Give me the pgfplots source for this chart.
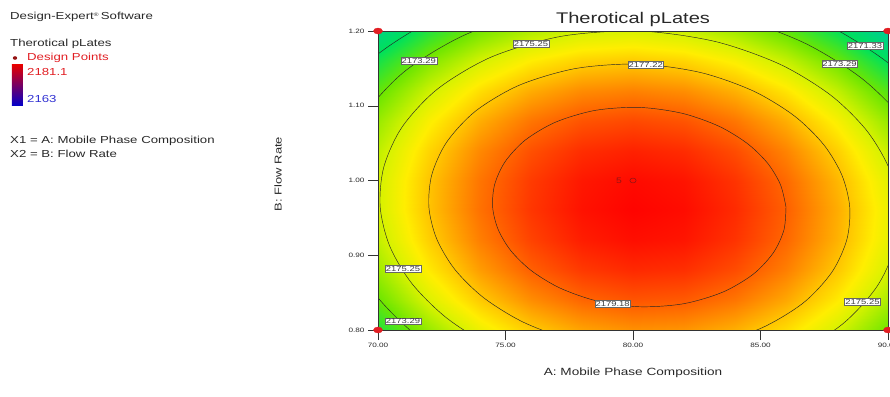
\documentclass[border=0pt]{standalone}
\usepackage{fontspec}
\setmainfont{Liberation Sans}[FakeStretch=1.3]
\usepackage{pgfplots}
\pgfplotsset{compat=1.18}
\usepackage{pgfplotstable}
\definecolor{dxred}{RGB}{225,30,35}
\definecolor{dxdark}{RGB}{150,20,20}
\definecolor{dxblue}{RGB}{50,50,210}
\definecolor{txtgray}{RGB}{40,40,40}
\tikzset{lab/.style={fill=white, draw=black!60, line width=0.3bp, inner sep=0.8bp, font=\fontsize{7.3}{8}\selectfont, text=black!75}}

\pgfplotstableread{
x y z
70 0.80 2171.89
72 0.80 2174.05
74 0.80 2175.76
76 0.80 2177.02
78 0.80 2177.84
80 0.80 2178.20
82 0.80 2178.12
84 0.80 2177.59
86 0.80 2176.61
88 0.80 2175.18
90 0.80 2173.31
70 0.84 2173.21
72 0.84 2175.34
74 0.84 2177.03
76 0.84 2178.27
78 0.84 2179.06
80 0.84 2179.41
82 0.84 2179.30
84 0.84 2178.75
86 0.84 2177.75
88 0.84 2176.30
90 0.84 2174.41
70 0.88 2174.18
72 0.88 2176.30
74 0.88 2177.97
76 0.88 2179.19
78 0.88 2179.96
80 0.88 2180.28
82 0.88 2180.16
84 0.88 2179.58
86 0.88 2178.56
88 0.88 2177.10
90 0.88 2175.18
70 0.92 2174.83
72 0.92 2176.92
74 0.92 2178.57
76 0.92 2179.77
78 0.92 2180.52
80 0.92 2180.82
82 0.92 2180.68
84 0.92 2180.08
86 0.92 2179.04
88 0.92 2177.55
90 0.92 2175.61
70 0.96 2175.14
72 0.96 2177.21
74 0.96 2178.84
76 0.96 2180.02
78 0.96 2180.75
80 0.96 2181.03
82 0.96 2180.86
84 0.96 2180.25
86 0.96 2179.19
88 0.96 2177.67
90 0.96 2175.72
70 1.00 2175.12
72 1.00 2177.17
74 1.00 2178.77
76 1.00 2179.93
78 1.00 2180.64
80 1.00 2180.90
82 1.00 2180.71
84 1.00 2180.08
86 1.00 2179.00
88 1.00 2177.46
90 1.00 2175.49
70 1.04 2174.76
72 1.04 2176.79
74 1.04 2178.38
76 1.04 2179.51
78 1.04 2180.20
80 1.04 2180.44
82 1.04 2180.23
84 1.04 2179.58
86 1.04 2178.47
88 1.04 2176.92
90 1.04 2174.92
70 1.08 2174.07
72 1.08 2176.08
74 1.08 2177.64
76 1.08 2178.76
78 1.08 2179.43
80 1.08 2179.65
82 1.08 2179.42
84 1.08 2178.74
86 1.08 2177.62
88 1.08 2176.04
90 1.08 2174.02
70 1.12 2173.05
72 1.12 2175.04
74 1.12 2176.58
76 1.12 2177.67
78 1.12 2178.32
80 1.12 2178.52
82 1.12 2178.27
84 1.12 2177.57
86 1.12 2176.42
88 1.12 2174.83
90 1.12 2172.79
70 1.16 2171.69
72 1.16 2173.66
74 1.16 2175.18
76 1.16 2176.25
78 1.16 2176.88
80 1.16 2177.06
82 1.16 2176.79
84 1.16 2176.07
86 1.16 2174.90
88 1.16 2173.29
90 1.16 2171.22
70 1.20 2170.00
72 1.20 2171.95
74 1.20 2173.45
76 1.20 2174.50
78 1.20 2175.10
80 1.20 2175.26
82 1.20 2174.97
84 1.20 2174.23
86 1.20 2173.04
88 1.20 2171.41
90 1.20 2169.32
}\surfdata

\begin{document}
\begin{tikzpicture}
\begin{axis}[
  at={(0,0)}, anchor=south west,
  scale only axis, width=510bp, height=299bp,
  xmin=70, xmax=90, ymin=0.8, ymax=1.2,
  xtick={70,75,80,85,90}, ytick={0.8,0.9,1.0,1.1,1.2},
  /pgf/number format/assume math mode=true,
  xticklabel style={/pgf/number format/fixed, /pgf/number format/fixed zerofill, /pgf/number format/precision=2},
  yticklabel style={/pgf/number format/fixed, /pgf/number format/fixed zerofill, /pgf/number format/precision=2},
  tick pos=left, tick align=outside, major tick length=10bp,
  tick style={black!80, line width=0.5bp},
  tick label style={font=\fontsize{6.3}{7}\selectfont, text=txtgray},
  colormap={dx}{rgb255(0pt)=(0,0,255); rgb255(50pt)=(0,190,190); rgb255(83pt)=(0,225,90); rgb255(103pt)=(110,230,0); rgb255(122pt)=(215,242,0); rgb255(132pt)=(255,238,0); rgb255(142pt)=(255,195,0); rgb255(162pt)=(255,95,0); rgb255(181pt)=(255,0,0)},
  point meta min=2163, point meta max=2181.1,
  axis line style={black!80, line width=0.5bp},
  axis on top,
]
\addplot[surf, shader=interp, mesh/cols=11, mesh/ordering=x varies, point meta=explicit] table[x=x, y=y, meta=z] {\surfdata};

% contour 2179.18
\addplot[black!85, line width=0.45bp, smooth] coordinates {
(86.000,0.9644) (85.787,0.9941) (85.289,1.0227) (84.491,1.0493) (83.370,1.0726) (81.928,1.0899) (80.248,1.0978) (78.516,1.0938) (76.966,1.0781) (75.772,1.0540) (74.985,1.0252) (74.576,0.9948) (74.496,0.9644) (74.709,0.9347) (75.207,0.9062) (76.005,0.8796) (77.126,0.8563) (78.568,0.8390) (80.248,0.8311) (81.980,0.8351) (83.530,0.8508) (84.724,0.8749) (85.511,0.9037) (85.920,0.9340) (86.000,0.9644)};
% contour 2177.22
\addplot[black!85, line width=0.45bp, smooth] coordinates {
(80.248,0.7732) (82.733,0.7789) (84.955,0.8014) (86.669,0.8360) (87.798,0.8773) (88.385,0.9208) (88.500,0.9644) (88.194,1.0070) (87.480,1.0479) (86.335,1.0862) (84.726,1.1196) (82.658,1.1444) (80.248,1.1557) (77.763,1.1499) (75.541,1.1275) (73.827,1.0929) (72.698,1.0516) (72.112,1.0080) (71.996,0.9644) (72.302,0.9219) (73.016,0.8809) (74.161,0.8427) (75.770,0.8093) (77.838,0.7845) (80.248,0.7732)};
% contour 2175.25
\addplot[black!85, line width=0.45bp, smooth] coordinates {
(90.410,0.9644) (90.034,1.0169) (89.154,1.0673) (87.744,1.1144) (85.763,1.1555) (83.217,1.1860) (80.248,1.2000) (77.187,1.1929) (74.451,1.1653) (72.341,1.1226) (70.950,1.0718) (70.228,1.0181) (70.086,0.9644) (70.462,0.9120) (71.342,0.8616) (72.752,0.8145) (74.733,0.7734) (77.280,0.7429) (80.248,0.7289) (83.309,0.7360) (86.045,0.7636) (88.156,0.8063) (89.546,0.8571) (90.268,0.9107) (90.410,0.9644)};
% contour 2173.29
\addplot[black!85, line width=0.45bp, smooth] coordinates {
(92.007,0.9644) (91.571,1.0251) (90.553,1.0834) (88.922,1.1379) (86.630,1.1855) (83.683,1.2208) (80.248,1.2370) (76.707,1.2288) (73.540,1.1968) (71.098,1.1474) (69.489,1.0887) (68.653,1.0266) (68.489,0.9644) (68.925,0.9038) (69.943,0.8455) (71.574,0.7910) (73.866,0.7434) (76.813,0.7081) (80.248,0.6919) (83.789,0.7001) (86.956,0.7321) (89.398,0.7815) (91.007,0.8402) (91.843,0.9023) (92.007,0.9644)};
% contour 2171.33 (top corners)
\addplot[black!85, line width=0.45bp, smooth] coordinates {
(92.924,1.0324) (91.784,1.0976) (89.958,1.1586) (87.392,1.2119) (84.093,1.2515)};
\addplot[black!85, line width=0.45bp, smooth] coordinates {
(76.284,1.2604) (72.739,1.2246) (70.005,1.1693) (68.204,1.1035) (67.269,1.0340)};

\node[lab] at (axis cs:71.6,1.160) {2173.29};
\node[lab] at (axis cs:76.0,1.183) {2175.25};
\node[lab] at (axis cs:80.5,1.155) {2177.22};
\node[lab] at (axis cs:88.1,1.156) {2173.29};
\node[lab] at (axis cs:89.1,1.180) {2171.33};
\node[lab] at (axis cs:70.98,0.882) {2175.25};
\node[lab] at (axis cs:70.98,0.812) {2173.29};
\node[lab] at (axis cs:79.2,0.835) {2179.18};
\node[lab] at (axis cs:89.0,0.838) {2175.25};

\addplot[only marks, mark=o, mark size=2.4bp, color=dxdark, mark options={line width=0.6bp, xscale=1.3}] coordinates {(80,1.0)};
\node[font=\fontsize{8}{9}\selectfont, text=dxdark] at (axis cs:79.45,1.0) {5};
\end{axis}

% overlay axis for the corner design points (not clipped)
\begin{axis}[
  at={(0,0)}, anchor=south west,
  scale only axis, width=510bp, height=299bp,
  xmin=70, xmax=90, ymin=0.8, ymax=1.2,
  hide axis, clip=false,
]
\addplot[only marks, mark=*, mark size=3bp, color=dxred, mark options={xscale=1.5}] coordinates {(70,0.8) (90,0.8) (70,1.2) (90,1.2)};
\end{axis}

% title and axis labels
\node[anchor=base, font=\fontsize{15.5}{16}\selectfont, text=txtgray] at (255bp,306bp) {Therotical pLates};
\node[anchor=base, font=\fontsize{10.5}{12}\selectfont, text=txtgray] at (255bp,-45bp) {A: Mobile Phase Composition};
\node[rotate=90, font=\fontsize{10}{11}\selectfont, text=txtgray] at (-100bp,156bp) {B: Flow Rate};

% left panel
\begin{scope}[every node/.style={anchor=base west, inner sep=0pt, font=\fontsize{10.2}{12}\selectfont, text=txtgray}]
\node at (-368bp,310bp) {Design-Expert\textsuperscript{\tiny\textregistered}\,Software};
\node at (-368bp,283bp) {Therotical pLates};
\node[text=dxred] at (-351bp,269bp) {Design Points};
\node[text=dxred] at (-351bp,254bp) {2181.1};
\node[text=dxblue] at (-351bp,227bp) {2163};
\node at (-368bp,186bp) {X1 = A: Mobile Phase Composition};
\node at (-368bp,172bp) {X2 = B: Flow Rate};
\end{scope}
\fill[dxdark] (-363bp,272bp) ellipse (2.2bp and 1.8bp);
\shade[top color=red!90!black, middle color=green!70!black, bottom color=blue!80!black] (-366bp,224bp) rectangle (-355bp,265bp);

\pgfresetboundingbox
\path[use as bounding box] (-378bp,-67bp) rectangle (512bp,330bp);
\end{tikzpicture}
\end{document}
